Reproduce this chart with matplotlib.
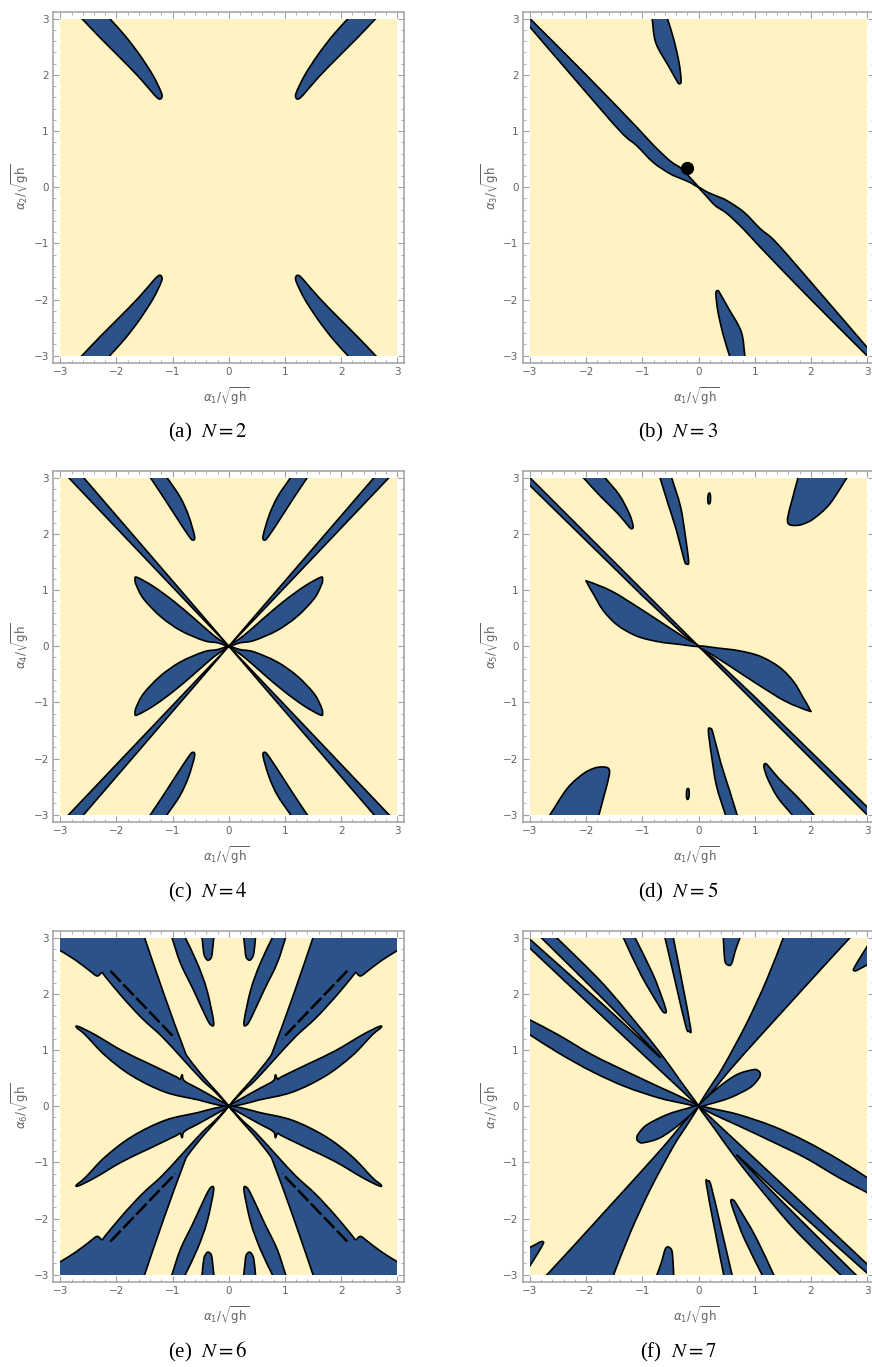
import numpy as np
import matplotlib
matplotlib.use("Agg")
import matplotlib.pyplot as plt
from matplotlib.patches import PathPatch, Rectangle
from matplotlib.path import Path
from matplotlib.ticker import MultipleLocator

plt.rcParams['font.family'] = ['DejaVu Sans']
plt.rcParams['mathtext.fontset'] = 'dejavusans'

BLUE = '#2b5289'
CREAM = '#fff3c4'
FRAME = '#a0a0a0'
TEXT = '#626262'

# region outlines, one representative per symmetry class
# N = 2  (mirrored in both axes)
a_lens = [(-2.614, 3.0), (-2.30, 2.67), (-1.96, 2.33), (-1.60, 1.96), (-1.34, 1.66),
          (-1.25, 1.575), (-1.20, 1.585), (-1.20, 1.68), (-1.35, 1.99),
          (-1.59, 2.36), (-1.85, 2.70), (-2.12, 3.0)]

# N = 3  (point symmetric)
b_band = [(-3.0, 3.0), (-2.0, 2.0), (-1.101, 1.07), (-0.804, 0.75), (-0.508, 0.47),
          (-0.30, 0.33), (-0.15, 0.17), (0.0, 0.0), (-0.152, 0.085),
          (-0.33, 0.16), (-0.508, 0.24), (-0.804, 0.44), (-1.101, 0.74), (-1.398, 1.0),
          (-2.2, 1.92), (-3.0, 2.85)]
b_lens = [(-0.825, 3.0), (-0.76, 2.57), (-0.53, 2.15), (-0.40, 1.92), (-0.35, 1.845),
          (-0.31, 1.89), (-0.345, 2.21), (-0.44, 2.63), (-0.552, 3.0)]
b_point = (-0.2, 0.34)

# N = 4  (mirrored in both axes)
c_arm = [(-2.851, 3.0), (-2.584, 3.0), (0.0, 0.0)]
c_petal = [(-1.67, 1.19), (-1.63, 1.225), (-1.336, 1.06), (-0.98, 0.80),
           (-0.623, 0.50), (-0.267, 0.19), (0.0, 0.0), (-0.2, 0.06), (-0.445, 0.10),
           (-0.861, 0.28), (-1.217, 0.53), (-1.515, 0.84), (-1.645, 1.08)]
c_lens = [(-1.396, 3.0), (-1.17, 2.662), (-0.94, 2.306), (-0.725, 1.98),
          (-0.645, 1.89), (-0.61, 1.96), (-0.72, 2.336), (-0.87, 2.662), (-1.099, 3.0)]

# N = 5  (point symmetric)
d_band = [(-3.0, 3.0), (-1.0, 1.0), (-0.3, 0.3), (0.0, 0.0), (-0.3, 0.24), (-1.0, 0.9), (-3.0, 2.86)]
d_petal = [(-1.962, 1.151), (-1.546, 0.98), (-1.071, 0.69), (-0.597, 0.38), (-0.241, 0.15),
           (0.0, 0.0), (-0.359, 0.035), (-0.715, 0.08), (-1.1, 0.18), (-1.45, 0.38),
           (-1.70, 0.64), (-1.86, 0.91), (-1.98, 1.12)]
d_lens1 = [(-2.05, 3.0), (-1.74, 2.663), (-1.44, 2.366), (-1.25, 2.14), (-1.19, 2.09),
           (-1.165, 2.15), (-1.235, 2.366), (-1.41, 2.692), (-1.665, 3.0)]
d_lens2 = [(-0.686, 3.0), (-0.545, 2.544), (-0.395, 2.07), (-0.255, 1.536), (-0.211, 1.465),
           (-0.176, 1.51), (-0.232, 1.951), (-0.32, 2.485), (-0.478, 3.0)]
d_blob = [(0.175, 2.54), (0.205, 2.55), (0.215, 2.64), (0.205, 2.72), (0.18, 2.715), (0.165, 2.63)]
d_wedge = [(1.772, 3.0), (1.67, 2.62), (1.59, 2.30), (1.60, 2.18), (1.70, 2.15),
           (1.85, 2.17), (2.05, 2.27), (2.335, 2.53), (2.643, 3.0)]

# N = 6  (mirrored in both axes)
e_big = [(-3.0, 3.0), (-1.499, 3.0), (-1.16, 2.01), (-0.804, 1.033), (-0.715, 0.855),
         (-0.45, 0.52), (-0.2, 0.24), (0.0, 0.0), (-0.25, 0.26), (-0.478, 0.469),
         (-0.833, 0.855), (-1.19, 1.24), (-1.546, 1.566), (-1.902, 1.951), (-2.199, 2.307),
         (-2.258, 2.378), (-2.347, 2.319), (-2.496, 2.426), (-2.733, 2.603), (-3.0, 2.77)]
e_dash = [(-2.11, 2.41), (-0.95, 1.2)]
e_petal = [(-2.674, 1.418), (-2.377, 1.27), (-1.902, 0.99), (-1.427, 0.76), (-0.95, 0.53),
           (-0.87, 0.48), (-0.83, 0.56), (-0.79, 0.45), (-0.537, 0.31), (-0.25, 0.15),
           (0.0, 0.0), (-0.25, 0.035), (-0.537, 0.11), (-1.131, 0.25), (-1.724, 0.54),
           (-2.199, 0.90), (-2.555, 1.27), (-2.71, 1.40)]
e_lens = [(-1.012, 3.0), (-0.86, 2.544), (-0.63, 2.07), (-0.41, 1.596), (-0.32, 1.447),
          (-0.27, 1.50), (-0.39, 2.07), (-0.56, 2.544), (-0.775, 3.0)]
e_small = [(-0.475, 3.0), (-0.445, 2.72), (-0.40, 2.62), (-0.36, 2.60), (-0.31, 2.65),
           (-0.29, 2.78), (-0.267, 3.0)]

# N = 7  (point symmetric)
f_band = [(-3.0, 3.0), (-2.525, 3.0), (-1.7, 2.18), (-1.0, 1.35), (-0.63, 0.88), (-0.3, 0.42),
          (0.0, 0.0), (-0.3, 0.28), (-1.5, 1.40), (-3.0, 2.81)]
f_sliver = [(-3.0, 3.0), (-2.80, 3.0), (-1.7, 1.91), (-0.68, 0.87), (-1.7, 1.81), (-3.0, 2.97)]
f_arm = [(-3.0, 1.536), (-2.496, 1.27), (-1.902, 0.92), (-1.309, 0.63), (-0.715, 0.35),
         (-0.30, 0.16), (0.0, 0.0), (-0.30, 0.055), (-0.715, 0.15), (-1.309, 0.35),
         (-1.902, 0.62), (-2.496, 0.95), (-3.0, 1.27)]
f_lens1 = [(-1.338, 3.0), (-1.02, 2.33), (-0.71, 1.80), (-0.625, 1.675), (-0.575, 1.69),
           (-0.645, 1.92), (-0.82, 2.37), (-1.131, 3.0)]
f_lens2 = [(-0.597, 3.0), (-0.41, 2.2), (-0.225, 1.42), (-0.17, 1.34), (-0.14, 1.39),
           (-0.29, 2.2), (-0.448, 3.0)]
f_lens3 = [(0.442, 3.0), (0.455, 2.75), (0.475, 2.57), (0.53, 2.51), (0.59, 2.54),
           (0.66, 2.78), (0.739, 3.0)]
f_wedge = [(1.51, 3.0), (1.213, 2.248), (0.857, 1.477), (0.442, 0.706), (0.2, 0.33), (0.0, 0.0),
           (0.3, 0.33), (0.561, 0.647), (1.036, 1.181), (1.629, 1.833), (2.222, 2.485), (2.697, 3.0)]
f_corner = [(3.0, 2.84), (2.85, 2.60), (2.77, 2.46), (2.76, 2.42), (2.80, 2.41), (2.88, 2.45), (3.0, 2.514)]
f_petal = [(0.0, 0.0), (0.323, 0.31), (0.679, 0.56), (0.976, 0.65), (1.06, 0.635),
           (1.10, 0.58), (1.07, 0.49), (0.917, 0.33), (0.561, 0.15), (0.205, 0.04)]

captions = ['(a)', '(b)', '(c)', '(d)', '(e)', '(f)']
layers = [2, 3, 4, 5, 6, 7]


def mirror4(pts):
    p = np.asarray(pts, float)
    return [p, p * [-1, 1], p * [1, -1], -p]


def mirror2(pts):
    p = np.asarray(pts, float)
    return [p, -p]


def on_border(v):
    return (np.abs(v) >= 2.999).any()


def extend_border(p):
    # add a helper vertex outside the plot next to every border vertex, continuing
    # its edge, so that after clipping no outline is drawn along the border itself
    n = len(p)
    out = []
    for i in range(n):
        v = p[i]
        if not on_border(v):
            out.append(v)
            continue
        prev, nxt = p[i - 1], p[(i + 1) % n]
        k = np.argmax(np.abs(v))
        if not on_border(prev):
            d = v - prev
            out += [v, v + d * 0.2 / max(abs(d[k]), 1e-6)]
        elif not on_border(nxt):
            d = v - nxt
            out += [v + d * 0.2 / max(abs(d[k]), 1e-6), v]
        else:
            out.append(v * 1.06)
    return np.array(out)


def outline(p, smooth):
    if not smooth:
        return Path(np.vstack([p, p[:1]]), closed=True)
    # closed Catmull-Rom curve through the outline vertices
    n = len(p)
    verts = [p[0]]
    codes = [Path.MOVETO]
    for i in range(n):
        p0, p1, p2, p3 = p[i - 1], p[i], p[(i + 1) % n], p[(i + 2) % n]
        verts += [p1 + (p2 - p0) / 6, p2 - (p3 - p1) / 6, p2]
        codes += [Path.CURVE4] * 3
    verts.append(p[0])
    codes.append(Path.CLOSEPOLY)
    return Path(verts, codes)


def region(ax, pts, clip, fc=BLUE, smooth=True):
    p = extend_border(np.array(pts, float))
    patch = PathPatch(outline(p, smooth), fc=fc, ec='black', lw=1.2, joinstyle='round')
    ax.add_patch(patch)
    patch.set_clip_path(clip)


def setup(ax, n):
    ax.set_xlim(-3.125, 3.125)
    ax.set_ylim(-3.125, 3.125)
    ax.set_xticks(range(-3, 4))
    ax.set_yticks(range(-3, 4))
    ax.xaxis.set_minor_locator(MultipleLocator(0.2))
    ax.yaxis.set_minor_locator(MultipleLocator(0.2))
    ax.tick_params(which='both', direction='in', top=True, right=True, color=FRAME,
                   labelcolor=TEXT, labelsize=7.5, pad=3.2)
    ax.tick_params(which='major', length=4.5, width=0.8)
    ax.tick_params(which='minor', length=2.2, width=0.6)
    for s in ax.spines.values():
        s.set_color(FRAME)
        s.set_linewidth(1.1)
    ax.text(0.493, -0.094, r'$\alpha_1/\sqrt{\mathrm{gh}}$', transform=ax.transAxes,
            ha='center', va='center', fontsize=8.5, color=TEXT)
    ax.text(-0.094, 0.5, r'$\alpha_%d/\sqrt{\mathrm{gh}}$' % n, transform=ax.transAxes,
            ha='center', va='center', rotation=90, fontsize=8.5, color=TEXT)
    bg = Rectangle((-3, -3), 6, 6, fc=CREAM, ec='none')
    ax.add_patch(bg)
    return bg


W, H = 872, 1367
fig = plt.figure(figsize=(W / 100, H / 100), dpi=100)
lefts = [53.3, 523.0]
tops = [11.7, 470.7, 930.7]
size = 351.0
cap_x = [208, 678]
cap_y = [432, 892, 1352]

axes = []
for k in range(6):
    r, c = divmod(k, 2)
    ax = fig.add_axes([lefts[c] / W, 1 - (tops[r] + size) / H, size / W, size / H])
    axes.append(ax)
    fig.text(cap_x[c] / W, 1 - cap_y[r] / H, '%s  $N=%d$' % (captions[k], layers[k]),
             ha='center', va='center', fontsize=15, family='Liberation Serif',
             math_fontfamily='stix')

# (a)
ax = axes[0]
bg = setup(ax, 2)
for p in mirror4(a_lens):
    region(ax, p, bg)

# (b)
ax = axes[1]
bg = setup(ax, 3)
for shape in (b_band, b_lens):
    for p in mirror2(shape):
        region(ax, p, bg)
ax.plot(*b_point, 'o', color='black', ms=8.5, zorder=5)

# (c)
ax = axes[2]
bg = setup(ax, 4)
for p in mirror4(c_arm):
    region(ax, p, bg, smooth=False)
for shape in (c_petal, c_lens):
    for p in mirror4(shape):
        region(ax, p, bg)

# (d)
ax = axes[3]
bg = setup(ax, 5)
for p in mirror2(d_band):
    region(ax, p, bg, smooth=False)
for shape in (d_petal, d_lens1, d_lens2, d_blob, d_wedge):
    for p in mirror2(shape):
        region(ax, p, bg)

# (e)
ax = axes[4]
bg = setup(ax, 6)
for shape in (e_big, e_petal, e_lens, e_small):
    for p in mirror4(shape):
        region(ax, p, bg)
for p in mirror4(e_dash):
    ax.plot(p[:, 0], p[:, 1], color='black', lw=1.8, dashes=(6, 1.5), zorder=4)

# (f)
ax = axes[5]
bg = setup(ax, 7)
for shape in (f_band, f_arm, f_lens1, f_lens2, f_lens3, f_wedge, f_corner, f_petal):
    for p in mirror2(shape):
        region(ax, p, bg)
for p in mirror2(f_sliver):
    region(ax, p, bg, fc=CREAM)

fig.savefig('out.png', dpi=100)
